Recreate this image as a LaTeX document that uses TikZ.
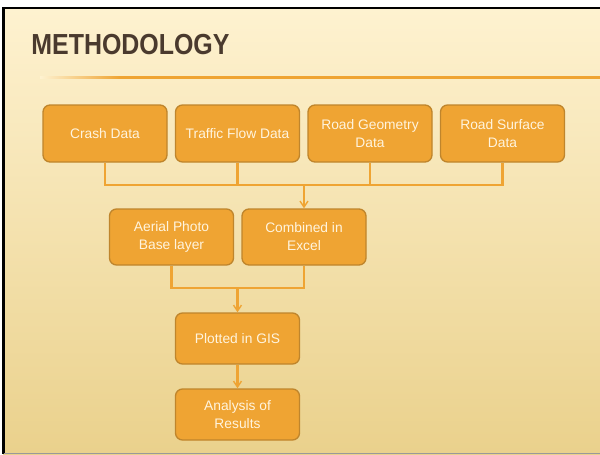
\documentclass[tikz,border=0pt]{standalone}
\usepackage{fontspec}
\setmainfont{Liberation Sans}
\newfontfamily\titlefont[FakeStretch=0.86]{Liberation Sans}
\usepackage{tikz}
\usetikzlibrary{positioning,arrows.meta}
\definecolor{boxfill}{HTML}{EFA433}
\definecolor{boxedge}{HTML}{BF852C}
\definecolor{boxtext}{HTML}{FFF4DE}
\definecolor{linkcol}{HTML}{EFA433}
\definecolor{titlecol}{HTML}{4A3A2E}
\definecolor{bgtop}{HTML}{FEF2D0}
\definecolor{bgbot}{HTML}{EAD18C}
\tikzset{every picture/.style={line width=0.75pt}}
\tikzset{
  stepbox/.style={draw=boxedge, fill=boxfill, rounded corners=7pt, line width=1.3pt,
    text=boxtext, align=center, minimum width=124pt, font=\fontsize{13.8}{18}\selectfont},
  link/.style={draw=linkcol, line width=2.2pt},
  flow/.style={link, -{Straight Barb[length=6pt,width=8pt,line width=1.4pt]}}
}

\begin{document}
\begin{tikzpicture}[x=1pt,y=-1pt]
\useasboundingbox (0,0) rectangle (600,455);
% background
\shade[top color=bgtop, bottom color=bgbot] (3,8) rectangle (600,454);
\draw[black, line width=2.4pt] (600,8) -- (3.5,8) -- (3.5,454);
\draw[black!40, line width=1pt] (3.5,453.5) -- (600,453.5);
%
\node[anchor=base west, text=titlecol, inner sep=0pt] (title) at (31,54)
  {\titlefont\bfseries\fontsize{29}{29}\selectfont METHODOLOGY};
\shade[left color=bgtop, right color=linkcol] (40,76) rectangle (120,78.5);
\fill[linkcol] (120,76) rectangle (600,78.5);
%
\node[stepbox, minimum height=57pt] (crash) at (105,133.5) {Crash Data};
\node[stepbox, minimum height=57pt] (traffic) at (237.5,133.5) {Traffic Flow Data};
\node[stepbox, minimum height=57pt] (geometry) at (370,133.5) {Road Geometry\\Data};
\node[stepbox, minimum height=57pt] (surface) at (502.5,133.5) {Road Surface\\Data};
%
\node[stepbox, minimum height=56pt] (aerial) at (171.5,237) {Aerial Photo\\Base layer};
\node[stepbox, minimum height=56pt] (combined) at (304,237) {Combined in\\Excel};
%
\node[stepbox, minimum height=51pt] (gis) at (237.5,338.5) {Plotted in GIS};
\node[stepbox, minimum height=51pt] (results) at (237.5,414.5) {Analysis of\\Results};
%
\coordinate (bus1) at (304,185);
\coordinate (bus2) at (237.5,288);
\draw[link] (crash.south) |- (bus1) -| (surface.south);
\draw[link] (traffic.south) -- (traffic.south |- bus1);
\draw[link] (geometry.south) -- (geometry.south |- bus1);
\draw[flow] (bus1) -- (combined.north);
%
\draw[link] (aerial.south) |- (bus2) -| (combined.south);
\draw[flow] (bus2) -- (gis.north);
\draw[flow] (gis.south) -- (results.north);
\end{tikzpicture}
\end{document}
